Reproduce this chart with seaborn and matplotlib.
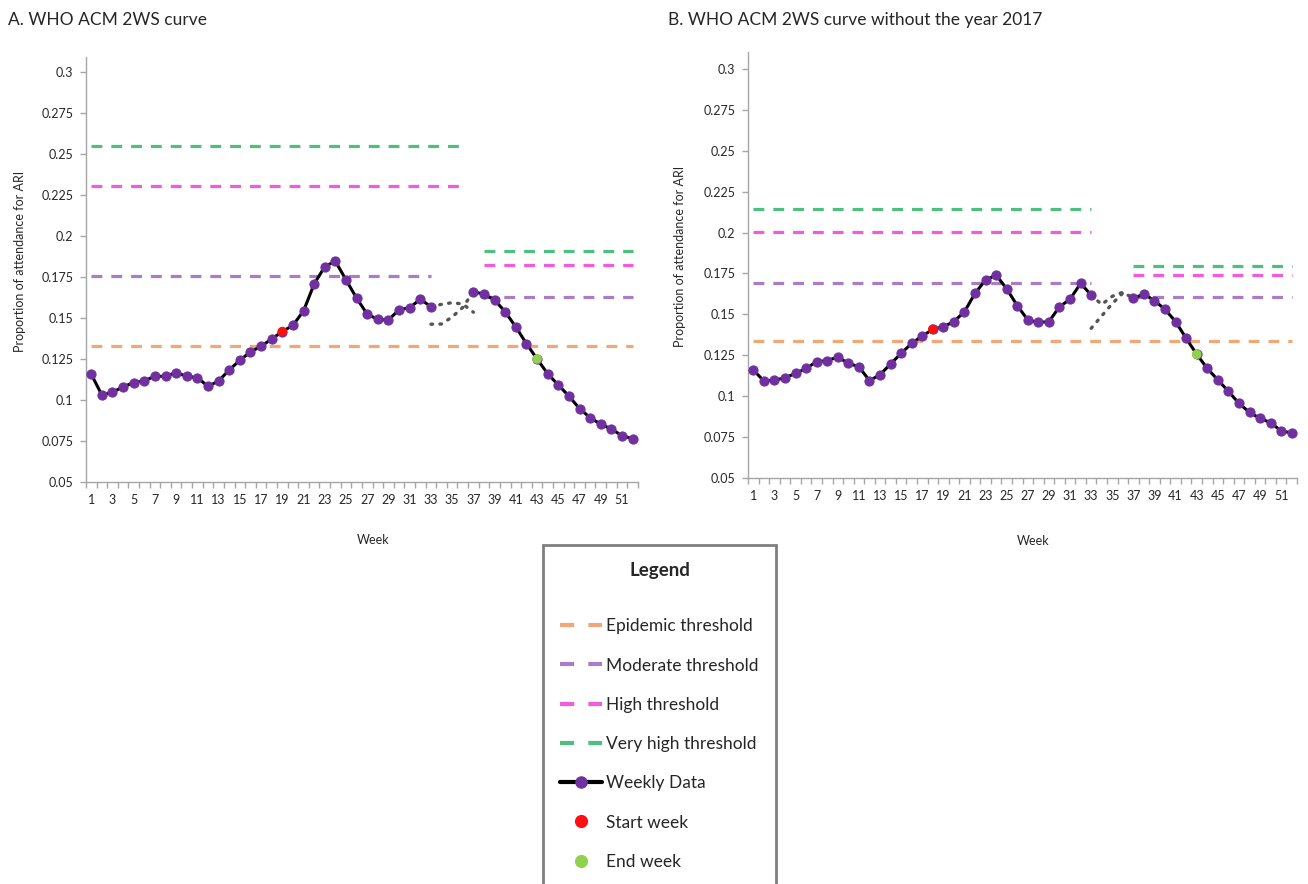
import numpy as np
import pandas as pd
import matplotlib
matplotlib.use("Agg")
import matplotlib.pyplot as plt
import seaborn as sns
from matplotlib.lines import Line2D

# ---------------- data ----------------
weeks = list(range(1, 53))
nan = np.nan

ari_a = [0.1157, 0.1030, 0.1047, 0.1080, 0.1106, 0.1118, 0.1144, 0.1144, 0.1167, 0.1144,
         0.1136, 0.1083, 0.1116, 0.1183, 0.1242, 0.1293, 0.1327, 0.1372, 0.1417, 0.1455,
         0.1543, 0.1707, 0.1813, 0.1846, 0.1732, 0.1621, 0.1523, 0.1491, 0.1488, 0.1550,
         0.1563, 0.1614, 0.1569, nan, nan, nan, 0.1660, 0.1645, 0.1610, 0.1537,
         0.1445, 0.1343, 0.1250, 0.1160, 0.1091, 0.1024, 0.0947, 0.0892, 0.0852, 0.0823,
         0.0782, 0.0764]

ari_b = [0.1159, 0.1092, 0.1096, 0.1112, 0.1138, 0.1169, 0.1210, 0.1217, 0.1238, 0.1200,
         0.1179, 0.1094, 0.1130, 0.1196, 0.1261, 0.1322, 0.1367, 0.1408, 0.1424, 0.1455,
         0.1516, 0.1628, 0.1710, 0.1740, 0.1656, 0.1553, 0.1465, 0.1450, 0.1455, 0.1546,
         0.1592, 0.1689, 0.1618, nan, nan, nan, 0.1598, 0.1624, 0.1583, 0.1530,
         0.1455, 0.1353, 0.1255, 0.1169, 0.1098, 0.1029, 0.0955, 0.0900, 0.0863, 0.0837,
         0.0786, 0.0774]

start_week_a, end_week_a = 19, 43
start_week_b, end_week_b = 18, 43

# dotted bridges across the missing weeks
bridge_weeks = [33, 34, 35, 36, 37]
bridge_a_1 = [0.1569, 0.1583, 0.1593, 0.1585, 0.1535]
bridge_a_2 = [0.1462, 0.1463, 0.1506, 0.1564, 0.1660]
bridge_b_1 = [0.1618, 0.1560, 0.1610, 0.1635, 0.1598]
bridge_b_2_weeks = [33, 34, 35, 36]
bridge_b_2 = [0.1414, 0.1490, 0.1565, 0.1630]

threshold_names = ["Epidemic threshold", "Moderate threshold", "High threshold", "Very high threshold"]
thr_a_left = [0.1330, 0.1758, 0.2305, 0.2549]
thr_a_right = [0.1330, 0.1630, 0.1825, 0.1909]
thr_b_left = [0.1337, 0.1689, 0.2005, 0.2143]
thr_b_right = [0.1337, 0.1604, 0.1738, 0.1797]
# week spans of the threshold segments (left, right)
span_a_left = [(1, 52), (1, 33), (1, 36), (1, 36)]
span_a_right = [None, (38, 52), (38, 52), (38, 52)]
span_b_left = [(1, 52), (1, 33), (1, 33), (1, 33)]
span_b_right = [None, (37, 52), (37, 52), (37, 52)]

ytick_vals = [0.05, 0.075, 0.1, 0.125, 0.15, 0.175, 0.2, 0.225, 0.25, 0.275, 0.3]
ytick_labels = ["0.05", "0.075", "0.1", "0.125", "0.15", "0.175", "0.2", "0.225", "0.25", "0.275", "0.3"]
xtick_weeks = list(range(1, 52, 2))

titles = ["A. WHO ACM 2WS curve", "B. WHO ACM 2WS curve without the year 2017"]
ylabel = "Proportion of attendance for ARI"
xlabel = "Week"

# ---------------- style ----------------
thr_colors = ["#F2A777", "#A97CC6", "#F25BDE", "#4FBF80"]
purple = "#7030A0"
red = "#FF1010"
green = "#92D050"
axis_gray = "#A6A6A6"
text_col = "#262626"

sns.set_theme(style="white")
plt.rcParams["font.family"] = ["Lato", "DejaVu Sans"]

fig = plt.figure(figsize=(13.08, 8.84), dpi=100)
axA = fig.add_axes([0.0657, 0.4548, 0.4220, 0.4807])
axB = fig.add_axes([0.5719, 0.4596, 0.4197, 0.4816])

TLW = 2.3
TDASH = (3.4, 2.8)


def draw_panel(ax, vals, start_w, end_w, thr_l, thr_r, sp_l, sp_r, bridges, ytop):
    # thresholds
    for v, s, c in zip(thr_l, sp_l, thr_colors):
        ax.hlines(v, s[0], s[1], colors=c, lw=TLW, linestyles=[(0, TDASH)], zorder=1)
    for v, s, c in zip(thr_r, sp_r, thr_colors):
        if s is None:
            continue
        ax.hlines(v, s[0], s[1], colors=c, lw=TLW, linestyles=[(0, TDASH)], zorder=1)
    # dotted bridges
    for bx, by in bridges:
        sns.lineplot(x=bx, y=by, ax=ax, color="#555555", lw=2.4,
                     linestyle=(0, (0.5, 2.2)), dash_capstyle="round",
                     estimator=None, legend=False, zorder=2)
    df = pd.DataFrame({"week": weeks, "ari": vals})
    seg1 = df[df["week"] <= 33]
    seg2 = df[df["week"] >= 37]
    for seg in (seg1, seg2):
        sns.lineplot(data=seg, x="week", y="ari", ax=ax, color="black", lw=2.2,
                     marker="o", markersize=6.6, markerfacecolor=purple,
                     markeredgecolor=purple, estimator=None, legend=False, zorder=3)
    sns.scatterplot(x=[start_w], y=[vals[start_w - 1]], ax=ax, color=red, s=48,
                    edgecolor="none", zorder=5, legend=False)
    sns.scatterplot(x=[end_w], y=[vals[end_w - 1]], ax=ax, color=green, s=48,
                    edgecolor="none", zorder=5, legend=False)

    ax.set_xlim(0.5, 52.5)
    ax.set_ylim(0.05, ytop)
    ax.set_yticks(ytick_vals)
    ax.set_yticklabels(ytick_labels)
    ax.set_xticks(np.arange(0.5, 53, 1))
    ax.set_xticklabels([])
    ax.set_xticks(xtick_weeks, minor=True)
    ax.set_xticklabels([str(w) for w in xtick_weeks], minor=True)
    ax.tick_params(axis="x", which="major", length=4, width=1, color=axis_gray, direction="out", bottom=True)
    ax.tick_params(axis="x", which="minor", length=0, pad=9, labelsize=9, labelcolor=text_col, bottom=True)
    ax.tick_params(axis="y", which="major", length=4, width=1, color=axis_gray, direction="out",
                   pad=5, labelsize=9, labelcolor=text_col, left=True)
    for sp in ("top", "right"):
        ax.spines[sp].set_visible(False)
    for sp in ("left", "bottom"):
        ax.spines[sp].set_color(axis_gray)
        ax.spines[sp].set_linewidth(1)
    ax.set_ylabel(ylabel, fontsize=9, color=text_col)
    ax.set_xlabel(xlabel, fontsize=9, color=text_col)
    ax.grid(False)


draw_panel(axA, ari_a, start_week_a, end_week_a, thr_a_left, thr_a_right, span_a_left, span_a_right,
           [(bridge_weeks, bridge_a_1), (bridge_weeks, bridge_a_2)], 0.3091)
draw_panel(axB, ari_b, start_week_b, end_week_b, thr_b_left, thr_b_right, span_b_left, span_b_right,
           [(bridge_weeks, bridge_b_1), (bridge_b_2_weeks, bridge_b_2)], 0.3105)

axA.yaxis.set_label_coords(-0.109, 0.52)
axB.yaxis.set_label_coords(-0.113, 0.52)
axA.xaxis.set_label_coords(0.52, -0.122)
axB.xaxis.set_label_coords(0.52, -0.135)

fig.text(8 / 1308, 1 - 20 / 884, titles[0], fontsize=12.5, color=text_col, va="center", ha="left")
fig.text(668 / 1308, 1 - 20 / 884, titles[1], fontsize=12.5, color=text_col, va="center", ha="left")

# ---------------- legend ----------------
handles = [Line2D([], [], color=c, lw=3, dashes=(3.4, 3.4)) for c in thr_colors]
handles.append(Line2D([], [], color="black", lw=3, marker="o", markersize=8,
                      markerfacecolor=purple, markeredgecolor=purple))
handles.append(Line2D([], [], ls="none", marker="o", markersize=9.5, color=red, markeredgecolor="none"))
handles.append(Line2D([], [], ls="none", marker="o", markersize=9.5, color=green, markeredgecolor="none"))
labels = threshold_names + ["Weekly Data", "Start week", "End week"]

leg = fig.legend(handles, labels, loc="upper left", bbox_to_anchor=(543 / 1308, 1 - 545 / 884),
                 frameon=True, fancybox=False, edgecolor="#7F7F7F", framealpha=1,
                 fontsize=12.5, title="Legend", title_fontproperties={"weight": "bold", "size": 13.5},
                 handlelength=2.4, handletextpad=0.25, labelspacing=1.34, borderpad=1.0,
                 borderaxespad=0, numpoints=1)
leg._legend_box.sep = 28
leg.get_frame().set_linewidth(2)
for t in leg.get_texts():
    t.set_color(text_col)

fig.savefig("out.png", dpi=100)
